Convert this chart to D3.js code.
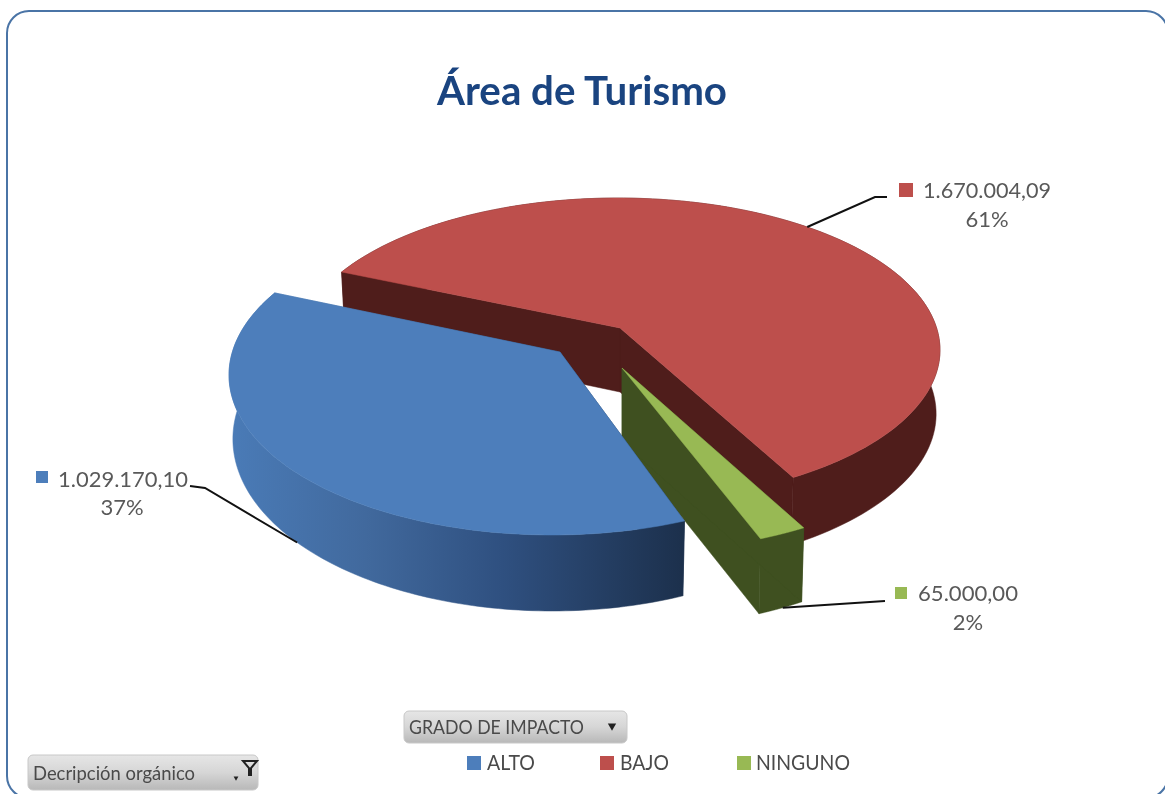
<!DOCTYPE html>
<html><head><meta charset="utf-8">
<script src="https://cdn.jsdelivr.net/npm/d3@7"></script>
<style>html,body{margin:0;padding:0;background:#fff;overflow:hidden}svg{display:block;filter:blur(0.5px)}text{font-family:Lato,"Open Sans",sans-serif}</style>
</head><body><svg id="c" width="1165" height="794"></svg>
<script>
// ---- data ----
const categories = ["ALTO", "BAJO", "NINGUNO"];
const seriesValues = [1029170.10, 1670004.09, 65000.00];
const valueLabels = ["1.029.170,10", "1.670.004,09", "65.000,00"];
const percentLabels = ["37%", "61%", "2%"];
const chartTitle = "Área de Turismo";
const pivotButtons = ["GRADO DE IMPACTO", "Decripción orgánico"];

// ---- styling / layout ----
const topColors = ["#4d7ebb", "#bd4f4c", "#98b954"];
const wallColors = ["url(#blueWall)", "#4f1d1b", "#3f5020"];
const sliceCx = [552, 618, 628.5], sliceCy = [375, 350, 402];
const sliceRx = [323, 322, 322], sliceRy = [160, 152, 150];
const apexDx = [8, 2, -6.5], apexDy = [-23, -22, -34], apexDepth = [64, 64, 74];
const drawOrder = [1, 2, 0];
const wallBase = 64, wallTilts = [12, 4, 12], wallShrink = 0.012, warpAmp = 6, warpAt = 228;
const leaderAngles = [233, 36, 151], leaderLevels = [1, 0, 1];
const leaderElbows = [[[205,488],[190,486]], [[875,197],[887,197]], [[870,602],[885,601]]];
const markerBoxes = [[36,471,12], [899,183,14], [895,587,12]];
const labelStart = [58, 923, 918], labelBase = [487, 198, 601], labelPctX = [122, 987, 968], labelPctBase = [515, 227, 630];
const labelWidth = [130, 128, 100];
const legendMarkX = [467, 600, 737], legendTextX = [487, 620, 756], legendWidth = [48, 49, 94];

const svg = d3.select("#c");
const rad = d => d * Math.PI / 180, deg = r => r * 180 / Math.PI;
const defs = svg.append("defs");
const grad = defs.append("linearGradient").attr("id","blueWall").attr("gradientUnits","userSpaceOnUse")
  .attr("x1",230).attr("x2",684).attr("y1",0).attr("y2",0);
[[0,"#4a7bb7"],[0.3,"#41699d"],[0.6,"#2f5080"],[1,"#1c304c"]].forEach(s=>grad.append("stop").attr("offset",s[0]).attr("stop-color",s[1]));
const btn = defs.append("linearGradient").attr("id","btn").attr("x1",0).attr("x2",0).attr("y1",0).attr("y2",1);
[[0,"#e6e6e6"],[0.5,"#d6d6d6"],[1,"#b8b8b8"]].forEach(s=>btn.append("stop").attr("offset",s[0]).attr("stop-color",s[1]));

// frame
svg.append("rect").attr("x",7).attr("y",11).attr("width",1161).attr("height",787).attr("rx",22)
  .attr("fill","#fff").attr("stroke","#4a74a6").attr("stroke-width",2);

// title
svg.append("text").attr("x",582).attr("y",105).attr("text-anchor","middle")
  .attr("font-size",40).attr("font-weight",700).attr("fill","#1a4480")
  .attr("textLength",290).attr("lengthAdjust","spacingAndGlyphs").text(chartTitle);

// pie
const pie = d3.pie().sort(null).startAngle(rad(161.3)).endAngle(rad(161.3+360));
const arcs = pie(seriesValues);
const warp = a => a + warpAmp * Math.sin(rad(a - warpAt));
function rimPoint(i, aDeg, level) { // aDeg already warped
  const u = Math.sin(rad(aDeg)), v = Math.cos(rad(aDeg));
  return [sliceCx[i] + sliceRx[i]*u*(1-level*wallShrink),
          sliceCy[i] - sliceRy[i]*v + level*(wallBase - wallTilts[i]*v)];
}
function apex(i, level) { return [sliceCx[i]+apexDx[i], sliceCy[i]+apexDy[i]+level*apexDepth[i]]; }
function rimArc(i, a0, a1, level) {
  return d3.range(0,121).map(k => rimPoint(i, a0+(a1-a0)*k/120, level));
}
const line = d3.line();
const g = svg.append("g");
drawOrder.forEach(i => {
  const a0 = warp(deg(arcs[i].startAngle)), a1 = warp(deg(arcs[i].endAngle));
  const top = rimArc(i,a0,a1,0), bot = rimArc(i,a0,a1,1);
  const sg = g.append("g").attr("class","slice").attr("data-cat",categories[i]);
  const w = wallColors[i];
  // cut face at the start and end of the slice, then outer rim, then top
  [[rimPoint(i,a1,0),apex(i,0),apex(i,1),rimPoint(i,a1,1)],
   top.concat(bot.slice().reverse()),
   [rimPoint(i,a0,0),apex(i,0),apex(i,1),rimPoint(i,a0,1)]].forEach(poly=>{
    sg.append("path").attr("d",line(poly)+"Z").attr("fill",w).attr("stroke",w).attr("stroke-width",0.5);
  });
  sg.append("path").attr("d",line([apex(i,0)].concat(top))+"Z").attr("fill",topColors[i])
    .attr("stroke",topColors[i]).attr("stroke-width",0.5);
});

// data labels and leaders
categories.forEach((c,i)=>{
  const start = rimPoint(i, leaderAngles[i], leaderLevels[i]);
  svg.append("path").attr("d",line([start].concat(leaderElbows[i]))).attr("fill","none")
    .attr("stroke","#111").attr("stroke-width",2);
  const m = markerBoxes[i];
  svg.append("rect").attr("x",m[0]).attr("y",m[1]).attr("width",m[2]).attr("height",m[2]).attr("fill",topColors[i]);
  svg.append("text").attr("x",labelStart[i]).attr("y",labelBase[i]).attr("font-size",22)
    .attr("textLength",labelWidth[i]).attr("lengthAdjust","spacingAndGlyphs").attr("fill","#595959").text(valueLabels[i]);
  svg.append("text").attr("x",labelPctX[i]).attr("y",labelPctBase[i]).attr("text-anchor","middle").attr("font-size",22)
    .attr("fill","#595959").text(percentLabels[i]);
});

// pivot buttons
function button(x,y,w,h,label,tw){
  svg.append("rect").attr("x",x).attr("y",y).attr("width",w).attr("height",h).attr("rx",5).attr("fill","url(#btn)").attr("stroke","#c8c8c8");
  svg.append("text").attr("x",x+5).attr("y",y+h/2+7).attr("font-size",20).attr("textLength",tw).attr("lengthAdjust","spacingAndGlyphs").attr("fill","#4a4a4a").text(label);
}
button(404,711,223,32,pivotButtons[0],175);
svg.append("path").attr("d",d3.symbol(d3.symbolTriangle,30)()).attr("transform","translate(612,726) rotate(180)").attr("fill","#222");
button(28,755,230,35,pivotButtons[1],162);
svg.append("path").attr("d",d3.symbol(d3.symbolTriangle,10)()).attr("transform","translate(236,778) rotate(180)").attr("fill","#222");
svg.append("path").attr("d",line([[243,761],[257,761],[251,768],[251,775],[249,775],[249,768]])+"Z").attr("fill","none").attr("stroke","#222").attr("stroke-width",2);

// legend
categories.forEach((c,i)=>{
  svg.append("rect").attr("x",legendMarkX[i]).attr("y",756).attr("width",14).attr("height",14).attr("fill",topColors[i]);
  svg.append("text").attr("x",legendTextX[i]).attr("y",770).attr("font-size",21)
    .attr("textLength",legendWidth[i]).attr("lengthAdjust","spacingAndGlyphs").attr("fill","#4a4a4a").text(c);
});
</script></body></html>
